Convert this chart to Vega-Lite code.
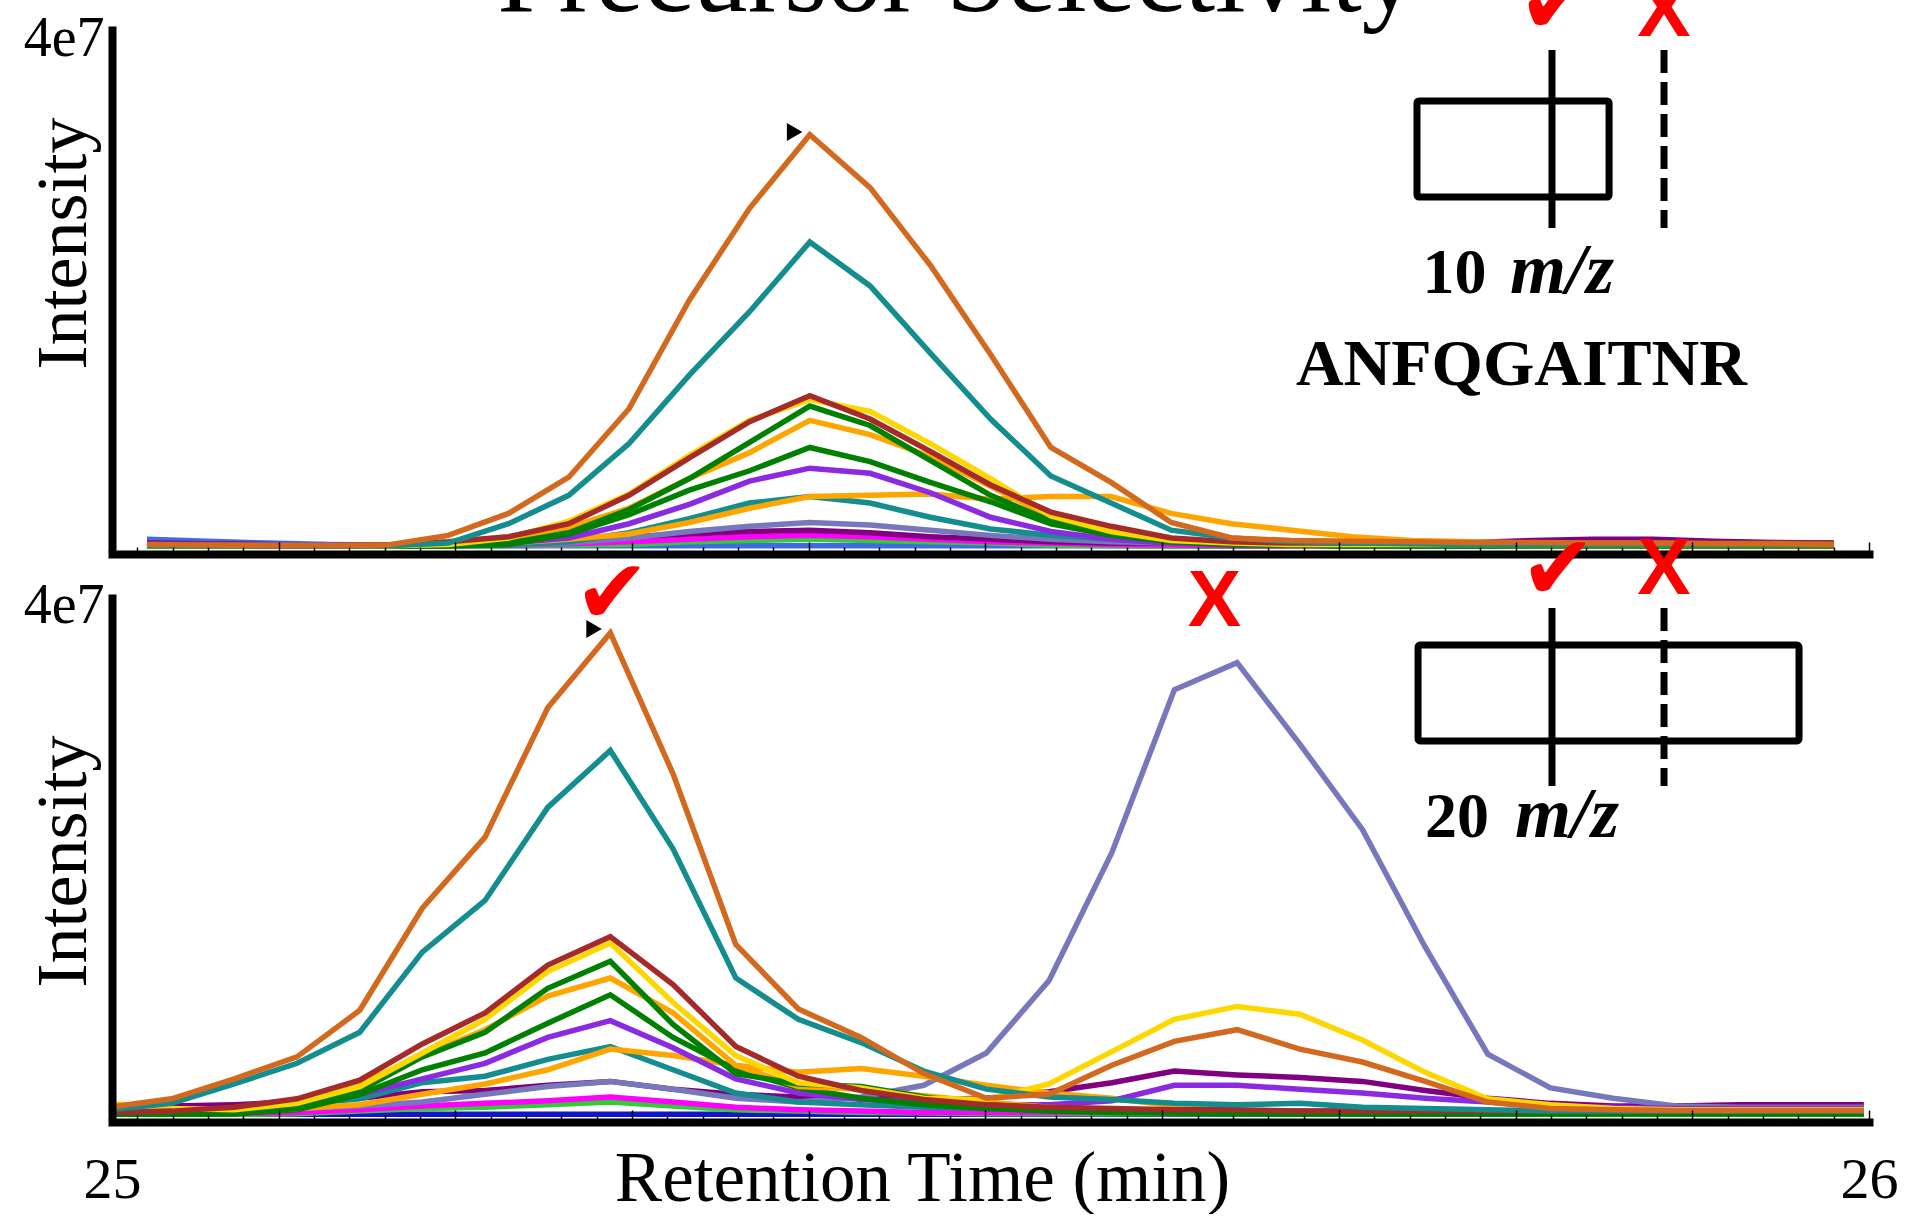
{
"$schema": "https://vega.github.io/schema/vega-lite/v6.json",
"background": "white",
"padding": {"left": 23, "top": -77, "right": 0, "bottom": 0},
"autosize": {"type": "pad"},
"bounds": "flush",
"spacing": 51,
"config": {"view": {"stroke": null}, "axis": {"grid": false}},
"datasets": {
"top": [
{"s":"bl","t":25.0255,"i":0.6},{"s":"bl","t":25.0596,"i":0.45},{"s":"bl","t":25.0937,"i":0.3},{"s":"bl","t":25.1278,"i":0.2},{"s":"bl","t":25.1619,"i":0.15},{"s":"bl","t":25.196,"i":0.1},{"s":"bl","t":25.2301,"i":0.1},{"s":"bl","t":25.2642,"i":0.1},{"s":"bl","t":25.2983,"i":0.1},{"s":"bl","t":25.3324,"i":0.1},{"s":"bl","t":25.3665,"i":0.1},{"s":"bl","t":25.4006,"i":0.1},{"s":"bl","t":25.4347,"i":0.1},{"s":"bl","t":25.4688,"i":0.1},{"s":"bl","t":25.5029,"i":0.1},{"s":"bl","t":25.537,"i":0.1},{"s":"bl","t":25.5711,"i":0.1},{"s":"bl","t":25.6051,"i":0.1},{"s":"bl","t":25.6392,"i":0.1},{"s":"bl","t":25.6733,"i":0.1},{"s":"bl","t":25.7074,"i":0.1},{"s":"bl","t":25.7415,"i":0.1},{"s":"bl","t":25.7756,"i":0.1},{"s":"bl","t":25.8097,"i":0.1},{"s":"bl","t":25.8438,"i":0.1},{"s":"bl","t":25.8779,"i":0.1},{"s":"bl","t":25.912,"i":0.1},{"s":"bl","t":25.9461,"i":0.1},{"s":"bl","t":25.9802,"i":0.1},
{"s":"li","t":25.0255,"i":0.05},{"s":"li","t":25.0596,"i":0.05},{"s":"li","t":25.0937,"i":0.05},{"s":"li","t":25.1278,"i":0.05},{"s":"li","t":25.1619,"i":0.05},{"s":"li","t":25.196,"i":0.05},{"s":"li","t":25.2301,"i":0.1},{"s":"li","t":25.2642,"i":0.15},{"s":"li","t":25.2983,"i":0.2},{"s":"li","t":25.3324,"i":0.4},{"s":"li","t":25.3665,"i":0.5},{"s":"li","t":25.4006,"i":0.6},{"s":"li","t":25.4347,"i":0.5},{"s":"li","t":25.4688,"i":0.4},{"s":"li","t":25.5029,"i":0.3},{"s":"li","t":25.537,"i":0.15},{"s":"li","t":25.5711,"i":0.1},{"s":"li","t":25.6051,"i":0.05},{"s":"li","t":25.6392,"i":0.05},{"s":"li","t":25.6733,"i":0.05},{"s":"li","t":25.7074,"i":0.05},{"s":"li","t":25.7415,"i":0.05},{"s":"li","t":25.7756,"i":0.05},{"s":"li","t":25.8097,"i":0.05},{"s":"li","t":25.8438,"i":0.05},{"s":"li","t":25.8779,"i":0.05},{"s":"li","t":25.912,"i":0.05},{"s":"li","t":25.9461,"i":0.05},{"s":"li","t":25.9802,"i":0.05},
{"s":"ma","t":25.0255,"i":0.1},{"s":"ma","t":25.0596,"i":0.1},{"s":"ma","t":25.0937,"i":0.1},{"s":"ma","t":25.1278,"i":0.1},{"s":"ma","t":25.1619,"i":0.1},{"s":"ma","t":25.196,"i":0.1},{"s":"ma","t":25.2301,"i":0.15},{"s":"ma","t":25.2642,"i":0.25},{"s":"ma","t":25.2983,"i":0.4},{"s":"ma","t":25.3324,"i":0.6},{"s":"ma","t":25.3665,"i":0.8},{"s":"ma","t":25.4006,"i":0.9},{"s":"ma","t":25.4347,"i":0.8},{"s":"ma","t":25.4688,"i":0.6},{"s":"ma","t":25.5029,"i":0.4},{"s":"ma","t":25.537,"i":0.3},{"s":"ma","t":25.5711,"i":0.2},{"s":"ma","t":25.6051,"i":0.15},{"s":"ma","t":25.6392,"i":0.1},{"s":"ma","t":25.6733,"i":0.1},{"s":"ma","t":25.7074,"i":0.1},{"s":"ma","t":25.7415,"i":0.1},{"s":"ma","t":25.7756,"i":0.1},{"s":"ma","t":25.8097,"i":0.1},{"s":"ma","t":25.8438,"i":0.1},{"s":"ma","t":25.8779,"i":0.1},{"s":"ma","t":25.912,"i":0.1},{"s":"ma","t":25.9461,"i":0.1},{"s":"ma","t":25.9802,"i":0.1},
{"s":"pu","t":25.0255,"i":0.3},{"s":"pu","t":25.0596,"i":0.25},{"s":"pu","t":25.0937,"i":0.2},{"s":"pu","t":25.1278,"i":0.15},{"s":"pu","t":25.1619,"i":0.15},{"s":"pu","t":25.196,"i":0.2},{"s":"pu","t":25.2301,"i":0.3},{"s":"pu","t":25.2642,"i":0.5},{"s":"pu","t":25.2983,"i":0.8},{"s":"pu","t":25.3324,"i":1.0},{"s":"pu","t":25.3665,"i":1.2},{"s":"pu","t":25.4006,"i":1.3},{"s":"pu","t":25.4347,"i":1.1},{"s":"pu","t":25.4688,"i":0.8},{"s":"pu","t":25.5029,"i":0.6},{"s":"pu","t":25.537,"i":0.4},{"s":"pu","t":25.5711,"i":0.3},{"s":"pu","t":25.6051,"i":0.3},{"s":"pu","t":25.6392,"i":0.3},{"s":"pu","t":25.6733,"i":0.3},{"s":"pu","t":25.7074,"i":0.3},{"s":"pu","t":25.7415,"i":0.3},{"s":"pu","t":25.7756,"i":0.35},{"s":"pu","t":25.8097,"i":0.5},{"s":"pu","t":25.8438,"i":0.6},{"s":"pu","t":25.8779,"i":0.6},{"s":"pu","t":25.912,"i":0.45},{"s":"pu","t":25.9461,"i":0.35},{"s":"pu","t":25.9802,"i":0.3},
{"s":"sl","t":25.0255,"i":0.2},{"s":"sl","t":25.0596,"i":0.2},{"s":"sl","t":25.0937,"i":0.15},{"s":"sl","t":25.1278,"i":0.15},{"s":"sl","t":25.1619,"i":0.15},{"s":"sl","t":25.196,"i":0.15},{"s":"sl","t":25.2301,"i":0.2},{"s":"sl","t":25.2642,"i":0.3},{"s":"sl","t":25.2983,"i":0.7},{"s":"sl","t":25.3324,"i":1.2},{"s":"sl","t":25.3665,"i":1.6},{"s":"sl","t":25.4006,"i":1.9},{"s":"sl","t":25.4347,"i":1.7},{"s":"sl","t":25.4688,"i":1.3},{"s":"sl","t":25.5029,"i":0.9},{"s":"sl","t":25.537,"i":0.6},{"s":"sl","t":25.5711,"i":0.4},{"s":"sl","t":25.6051,"i":0.3},{"s":"sl","t":25.6392,"i":0.25},{"s":"sl","t":25.6733,"i":0.2},{"s":"sl","t":25.7074,"i":0.2},{"s":"sl","t":25.7415,"i":0.2},{"s":"sl","t":25.7756,"i":0.2},{"s":"sl","t":25.8097,"i":0.2},{"s":"sl","t":25.8438,"i":0.2},{"s":"sl","t":25.8779,"i":0.2},{"s":"sl","t":25.912,"i":0.2},{"s":"sl","t":25.9461,"i":0.2},{"s":"sl","t":25.9802,"i":0.2},
{"s":"t2","t":25.0255,"i":0.1},{"s":"t2","t":25.0596,"i":0.1},{"s":"t2","t":25.0937,"i":0.1},{"s":"t2","t":25.1278,"i":0.1},{"s":"t2","t":25.1619,"i":0.1},{"s":"t2","t":25.196,"i":0.1},{"s":"t2","t":25.2301,"i":0.2},{"s":"t2","t":25.2642,"i":0.4},{"s":"t2","t":25.2983,"i":1.1},{"s":"t2","t":25.3324,"i":2.2},{"s":"t2","t":25.3665,"i":3.4},{"s":"t2","t":25.4006,"i":3.9},{"s":"t2","t":25.4347,"i":3.4},{"s":"t2","t":25.4688,"i":2.3},{"s":"t2","t":25.5029,"i":1.4},{"s":"t2","t":25.537,"i":0.9},{"s":"t2","t":25.5711,"i":0.6},{"s":"t2","t":25.6051,"i":0.3},{"s":"t2","t":25.6392,"i":0.2},{"s":"t2","t":25.6733,"i":0.15},{"s":"t2","t":25.7074,"i":0.1},{"s":"t2","t":25.7415,"i":0.1},{"s":"t2","t":25.7756,"i":0.1},{"s":"t2","t":25.8097,"i":0.1},{"s":"t2","t":25.8438,"i":0.1},{"s":"t2","t":25.8779,"i":0.1},{"s":"t2","t":25.912,"i":0.1},{"s":"t2","t":25.9461,"i":0.1},{"s":"t2","t":25.9802,"i":0.1},
{"s":"o2","t":25.0255,"i":0.1},{"s":"o2","t":25.0596,"i":0.1},{"s":"o2","t":25.0937,"i":0.1},{"s":"o2","t":25.1278,"i":0.1},{"s":"o2","t":25.1619,"i":0.1},{"s":"o2","t":25.196,"i":0.1},{"s":"o2","t":25.2301,"i":0.3},{"s":"o2","t":25.2642,"i":0.6},{"s":"o2","t":25.2983,"i":1.0},{"s":"o2","t":25.3324,"i":1.9},{"s":"o2","t":25.3665,"i":3.0},{"s":"o2","t":25.4006,"i":3.9},{"s":"o2","t":25.4347,"i":4.0},{"s":"o2","t":25.4688,"i":4.1},{"s":"o2","t":25.5029,"i":3.7},{"s":"o2","t":25.537,"i":3.9},{"s":"o2","t":25.5711,"i":3.9},{"s":"o2","t":25.6051,"i":2.6},{"s":"o2","t":25.6392,"i":1.8},{"s":"o2","t":25.6733,"i":1.3},{"s":"o2","t":25.7074,"i":0.8},{"s":"o2","t":25.7415,"i":0.5},{"s":"o2","t":25.7756,"i":0.4},{"s":"o2","t":25.8097,"i":0.3},{"s":"o2","t":25.8438,"i":0.3},{"s":"o2","t":25.8779,"i":0.3},{"s":"o2","t":25.912,"i":0.25},{"s":"o2","t":25.9461,"i":0.2},{"s":"o2","t":25.9802,"i":0.2},
{"s":"vi","t":25.0255,"i":0.1},{"s":"vi","t":25.0596,"i":0.1},{"s":"vi","t":25.0937,"i":0.1},{"s":"vi","t":25.1278,"i":0.1},{"s":"vi","t":25.1619,"i":0.1},{"s":"vi","t":25.196,"i":0.1},{"s":"vi","t":25.2301,"i":0.3},{"s":"vi","t":25.2642,"i":0.7},{"s":"vi","t":25.2983,"i":1.8},{"s":"vi","t":25.3324,"i":3.3},{"s":"vi","t":25.3665,"i":5.1},{"s":"vi","t":25.4006,"i":6.1},{"s":"vi","t":25.4347,"i":5.7},{"s":"vi","t":25.4688,"i":4.2},{"s":"vi","t":25.5029,"i":2.3},{"s":"vi","t":25.537,"i":1.2},{"s":"vi","t":25.5711,"i":0.6},{"s":"vi","t":25.6051,"i":0.3},{"s":"vi","t":25.6392,"i":0.2},{"s":"vi","t":25.6733,"i":0.15},{"s":"vi","t":25.7074,"i":0.1},{"s":"vi","t":25.7415,"i":0.1},{"s":"vi","t":25.7756,"i":0.1},{"s":"vi","t":25.8097,"i":0.1},{"s":"vi","t":25.8438,"i":0.1},{"s":"vi","t":25.8779,"i":0.1},{"s":"vi","t":25.912,"i":0.1},{"s":"vi","t":25.9461,"i":0.1},{"s":"vi","t":25.9802,"i":0.1},
{"s":"g2","t":25.0255,"i":0.05},{"s":"g2","t":25.0596,"i":0.05},{"s":"g2","t":25.0937,"i":0.05},{"s":"g2","t":25.1278,"i":0.05},{"s":"g2","t":25.1619,"i":0.05},{"s":"g2","t":25.196,"i":0.1},{"s":"g2","t":25.2301,"i":0.2},{"s":"g2","t":25.2642,"i":1.0},{"s":"g2","t":25.2983,"i":2.5},{"s":"g2","t":25.3324,"i":4.4},{"s":"g2","t":25.3665,"i":5.9},{"s":"g2","t":25.4006,"i":7.7},{"s":"g2","t":25.4347,"i":6.6},{"s":"g2","t":25.4688,"i":5.0},{"s":"g2","t":25.5029,"i":3.5},{"s":"g2","t":25.537,"i":1.8},{"s":"g2","t":25.5711,"i":0.9},{"s":"g2","t":25.6051,"i":0.4},{"s":"g2","t":25.6392,"i":0.2},{"s":"g2","t":25.6733,"i":0.15},{"s":"g2","t":25.7074,"i":0.1},{"s":"g2","t":25.7415,"i":0.1},{"s":"g2","t":25.7756,"i":0.1},{"s":"g2","t":25.8097,"i":0.1},{"s":"g2","t":25.8438,"i":0.1},{"s":"g2","t":25.8779,"i":0.1},{"s":"g2","t":25.912,"i":0.1},{"s":"g2","t":25.9461,"i":0.1},{"s":"g2","t":25.9802,"i":0.1},
{"s":"o1","t":25.0255,"i":0.1},{"s":"o1","t":25.0596,"i":0.1},{"s":"o1","t":25.0937,"i":0.1},{"s":"o1","t":25.1278,"i":0.1},{"s":"o1","t":25.1619,"i":0.1},{"s":"o1","t":25.196,"i":0.15},{"s":"o1","t":25.2301,"i":0.4},{"s":"o1","t":25.2642,"i":1.5},{"s":"o1","t":25.2983,"i":3.0},{"s":"o1","t":25.3324,"i":5.3},{"s":"o1","t":25.3665,"i":7.3},{"s":"o1","t":25.4006,"i":9.8},{"s":"o1","t":25.4347,"i":8.7},{"s":"o1","t":25.4688,"i":7.0},{"s":"o1","t":25.5029,"i":4.7},{"s":"o1","t":25.537,"i":2.3},{"s":"o1","t":25.5711,"i":1.1},{"s":"o1","t":25.6051,"i":0.5},{"s":"o1","t":25.6392,"i":0.3},{"s":"o1","t":25.6733,"i":0.2},{"s":"o1","t":25.7074,"i":0.2},{"s":"o1","t":25.7415,"i":0.15},{"s":"o1","t":25.7756,"i":0.15},{"s":"o1","t":25.8097,"i":0.1},{"s":"o1","t":25.8438,"i":0.1},{"s":"o1","t":25.8779,"i":0.1},{"s":"o1","t":25.912,"i":0.1},{"s":"o1","t":25.9461,"i":0.1},{"s":"o1","t":25.9802,"i":0.1},
{"s":"g1","t":25.0255,"i":0.05},{"s":"g1","t":25.0596,"i":0.05},{"s":"g1","t":25.0937,"i":0.05},{"s":"g1","t":25.1278,"i":0.05},{"s":"g1","t":25.1619,"i":0.05},{"s":"g1","t":25.196,"i":0.1},{"s":"g1","t":25.2301,"i":0.3},{"s":"g1","t":25.2642,"i":1.1},{"s":"g1","t":25.2983,"i":2.9},{"s":"g1","t":25.3324,"i":5.3},{"s":"g1","t":25.3665,"i":8.1},{"s":"g1","t":25.4006,"i":10.9},{"s":"g1","t":25.4347,"i":9.4},{"s":"g1","t":25.4688,"i":6.7},{"s":"g1","t":25.5029,"i":4.0},{"s":"g1","t":25.537,"i":2.0},{"s":"g1","t":25.5711,"i":1.0},{"s":"g1","t":25.6051,"i":0.4},{"s":"g1","t":25.6392,"i":0.2},{"s":"g1","t":25.6733,"i":0.15},{"s":"g1","t":25.7074,"i":0.1},{"s":"g1","t":25.7415,"i":0.1},{"s":"g1","t":25.7756,"i":0.1},{"s":"g1","t":25.8097,"i":0.1},{"s":"g1","t":25.8438,"i":0.1},{"s":"g1","t":25.8779,"i":0.1},{"s":"g1","t":25.912,"i":0.1},{"s":"g1","t":25.9461,"i":0.1},{"s":"g1","t":25.9802,"i":0.1},
{"s":"go","t":25.0255,"i":0.1},{"s":"go","t":25.0596,"i":0.1},{"s":"go","t":25.0937,"i":0.1},{"s":"go","t":25.1278,"i":0.1},{"s":"go","t":25.1619,"i":0.1},{"s":"go","t":25.196,"i":0.2},{"s":"go","t":25.2301,"i":0.7},{"s":"go","t":25.2642,"i":2.0},{"s":"go","t":25.2983,"i":4.1},{"s":"go","t":25.3324,"i":7.1},{"s":"go","t":25.3665,"i":9.8},{"s":"go","t":25.4006,"i":11.4},{"s":"go","t":25.4347,"i":10.5},{"s":"go","t":25.4688,"i":8.0},{"s":"go","t":25.5029,"i":5.3},{"s":"go","t":25.537,"i":2.4},{"s":"go","t":25.5711,"i":1.2},{"s":"go","t":25.6051,"i":0.5},{"s":"go","t":25.6392,"i":0.3},{"s":"go","t":25.6733,"i":0.2},{"s":"go","t":25.7074,"i":0.2},{"s":"go","t":25.7415,"i":0.2},{"s":"go","t":25.7756,"i":0.2},{"s":"go","t":25.8097,"i":0.2},{"s":"go","t":25.8438,"i":0.2},{"s":"go","t":25.8779,"i":0.2},{"s":"go","t":25.912,"i":0.2},{"s":"go","t":25.9461,"i":0.2},{"s":"go","t":25.9802,"i":0.2},
{"s":"br","t":25.0255,"i":0.15},{"s":"br","t":25.0596,"i":0.15},{"s":"br","t":25.0937,"i":0.1},{"s":"br","t":25.1278,"i":0.1},{"s":"br","t":25.1619,"i":0.15},{"s":"br","t":25.196,"i":0.4},{"s":"br","t":25.2301,"i":0.8},{"s":"br","t":25.2642,"i":1.8},{"s":"br","t":25.2983,"i":4.0},{"s":"br","t":25.3324,"i":6.9},{"s":"br","t":25.3665,"i":9.7},{"s":"br","t":25.4006,"i":11.7},{"s":"br","t":25.4347,"i":9.9},{"s":"br","t":25.4688,"i":7.4},{"s":"br","t":25.5029,"i":4.8},{"s":"br","t":25.537,"i":2.7},{"s":"br","t":25.5711,"i":1.6},{"s":"br","t":25.6051,"i":0.7},{"s":"br","t":25.6392,"i":0.4},{"s":"br","t":25.6733,"i":0.3},{"s":"br","t":25.7074,"i":0.3},{"s":"br","t":25.7415,"i":0.3},{"s":"br","t":25.7756,"i":0.3},{"s":"br","t":25.8097,"i":0.3},{"s":"br","t":25.8438,"i":0.3},{"s":"br","t":25.8779,"i":0.3},{"s":"br","t":25.912,"i":0.3},{"s":"br","t":25.9461,"i":0.3},{"s":"br","t":25.9802,"i":0.3},
{"s":"te","t":25.0255,"i":0.1},{"s":"te","t":25.0596,"i":0.1},{"s":"te","t":25.0937,"i":0.1},{"s":"te","t":25.1278,"i":0.1},{"s":"te","t":25.1619,"i":0.1},{"s":"te","t":25.196,"i":0.3},{"s":"te","t":25.2301,"i":1.8},{"s":"te","t":25.2642,"i":4.0},{"s":"te","t":25.2983,"i":8.0},{"s":"te","t":25.3324,"i":13.3},{"s":"te","t":25.3665,"i":18.2},{"s":"te","t":25.4006,"i":23.6},{"s":"te","t":25.4347,"i":20.2},{"s":"te","t":25.4688,"i":15.0},{"s":"te","t":25.5029,"i":9.9},{"s":"te","t":25.537,"i":5.5},{"s":"te","t":25.5711,"i":3.4},{"s":"te","t":25.6051,"i":1.3},{"s":"te","t":25.6392,"i":0.7},{"s":"te","t":25.6733,"i":0.4},{"s":"te","t":25.7074,"i":0.3},{"s":"te","t":25.7415,"i":0.25},{"s":"te","t":25.7756,"i":0.2},{"s":"te","t":25.8097,"i":0.2},{"s":"te","t":25.8438,"i":0.2},{"s":"te","t":25.8779,"i":0.2},{"s":"te","t":25.912,"i":0.2},{"s":"te","t":25.9461,"i":0.2},{"s":"te","t":25.9802,"i":0.2},
{"s":"ch","t":25.0255,"i":0.2},{"s":"ch","t":25.0596,"i":0.15},{"s":"ch","t":25.0937,"i":0.1},{"s":"ch","t":25.1278,"i":0.1},{"s":"ch","t":25.1619,"i":0.15},{"s":"ch","t":25.196,"i":0.9},{"s":"ch","t":25.2301,"i":2.6},{"s":"ch","t":25.2642,"i":5.4},{"s":"ch","t":25.2983,"i":10.7},{"s":"ch","t":25.3324,"i":19.1},{"s":"ch","t":25.3665,"i":26.2},{"s":"ch","t":25.4006,"i":31.9},{"s":"ch","t":25.4347,"i":27.8},{"s":"ch","t":25.4688,"i":21.8},{"s":"ch","t":25.5029,"i":14.9},{"s":"ch","t":25.537,"i":7.7},{"s":"ch","t":25.5711,"i":5.0},{"s":"ch","t":25.6051,"i":1.9},{"s":"ch","t":25.6392,"i":0.7},{"s":"ch","t":25.6733,"i":0.5},{"s":"ch","t":25.7074,"i":0.45},{"s":"ch","t":25.7415,"i":0.4},{"s":"ch","t":25.7756,"i":0.35},{"s":"ch","t":25.8097,"i":0.35},{"s":"ch","t":25.8438,"i":0.3},{"s":"ch","t":25.8779,"i":0.3},{"s":"ch","t":25.912,"i":0.25},{"s":"ch","t":25.9461,"i":0.25},{"s":"ch","t":25.9802,"i":0.2}
],
"bottom": [
{"s":"db","t":25.004,"i":0.05},{"s":"db","t":25.0395,"i":0.05},{"s":"db","t":25.0749,"i":0.05},{"s":"db","t":25.1104,"i":0.05},{"s":"db","t":25.1459,"i":0.05},{"s":"db","t":25.1813,"i":0.05},{"s":"db","t":25.2168,"i":0.05},{"s":"db","t":25.2523,"i":0.05},{"s":"db","t":25.2877,"i":0.05},{"s":"db","t":25.3232,"i":0.05},{"s":"db","t":25.3587,"i":0.05},{"s":"db","t":25.3941,"i":0.05},{"s":"db","t":25.4296,"i":0.05},{"s":"db","t":25.4651,"i":0.05},{"s":"db","t":25.5005,"i":0.05},{"s":"db","t":25.536,"i":0.05},{"s":"db","t":25.5715,"i":0.05},{"s":"db","t":25.6069,"i":0.05},{"s":"db","t":25.6424,"i":0.05},{"s":"db","t":25.6779,"i":0.05},{"s":"db","t":25.7133,"i":0.05},{"s":"db","t":25.7488,"i":0.05},{"s":"db","t":25.7843,"i":0.05},{"s":"db","t":25.8197,"i":0.05},{"s":"db","t":25.8552,"i":0.05},{"s":"db","t":25.8907,"i":0.05},{"s":"db","t":25.9261,"i":0.05},{"s":"db","t":25.9616,"i":0.05},{"s":"db","t":25.9971,"i":0.05},
{"s":"li","t":25.004,"i":0.05},{"s":"li","t":25.0395,"i":0.05},{"s":"li","t":25.0749,"i":0.05},{"s":"li","t":25.1104,"i":0.1},{"s":"li","t":25.1459,"i":0.3},{"s":"li","t":25.1813,"i":0.5},{"s":"li","t":25.2168,"i":0.6},{"s":"li","t":25.2523,"i":0.8},{"s":"li","t":25.2877,"i":1.0},{"s":"li","t":25.3232,"i":0.7},{"s":"li","t":25.3587,"i":0.4},{"s":"li","t":25.3941,"i":0.3},{"s":"li","t":25.4296,"i":0.2},{"s":"li","t":25.4651,"i":0.15},{"s":"li","t":25.5005,"i":0.1},{"s":"li","t":25.536,"i":0.1},{"s":"li","t":25.5715,"i":0.1},{"s":"li","t":25.6069,"i":0.1},{"s":"li","t":25.6424,"i":0.1},{"s":"li","t":25.6779,"i":0.1},{"s":"li","t":25.7133,"i":0.1},{"s":"li","t":25.7488,"i":0.1},{"s":"li","t":25.7843,"i":0.1},{"s":"li","t":25.8197,"i":0.05},{"s":"li","t":25.8552,"i":0.05},{"s":"li","t":25.8907,"i":0.05},{"s":"li","t":25.9261,"i":0.05},{"s":"li","t":25.9616,"i":0.05},{"s":"li","t":25.9971,"i":0.05},
{"s":"ma","t":25.004,"i":0.1},{"s":"ma","t":25.0395,"i":0.1},{"s":"ma","t":25.0749,"i":0.1},{"s":"ma","t":25.1104,"i":0.2},{"s":"ma","t":25.1459,"i":0.4},{"s":"ma","t":25.1813,"i":0.7},{"s":"ma","t":25.2168,"i":0.9},{"s":"ma","t":25.2523,"i":1.1},{"s":"ma","t":25.2877,"i":1.4},{"s":"ma","t":25.3232,"i":1.0},{"s":"ma","t":25.3587,"i":0.6},{"s":"ma","t":25.3941,"i":0.4},{"s":"ma","t":25.4296,"i":0.3},{"s":"ma","t":25.4651,"i":0.2},{"s":"ma","t":25.5005,"i":0.2},{"s":"ma","t":25.536,"i":0.2},{"s":"ma","t":25.5715,"i":0.2},{"s":"ma","t":25.6069,"i":0.2},{"s":"ma","t":25.6424,"i":0.2},{"s":"ma","t":25.6779,"i":0.2},{"s":"ma","t":25.7133,"i":0.2},{"s":"ma","t":25.7488,"i":0.2},{"s":"ma","t":25.7843,"i":0.2},{"s":"ma","t":25.8197,"i":0.15},{"s":"ma","t":25.8552,"i":0.15},{"s":"ma","t":25.8907,"i":0.15},{"s":"ma","t":25.9261,"i":0.15},{"s":"ma","t":25.9616,"i":0.15},{"s":"ma","t":25.9971,"i":0.15},
{"s":"pu","t":25.004,"i":0.5},{"s":"pu","t":25.0395,"i":0.7},{"s":"pu","t":25.0749,"i":0.8},{"s":"pu","t":25.1104,"i":1.0},{"s":"pu","t":25.1459,"i":1.3},{"s":"pu","t":25.1813,"i":1.8},{"s":"pu","t":25.2168,"i":1.9},{"s":"pu","t":25.2523,"i":2.3},{"s":"pu","t":25.2877,"i":2.6},{"s":"pu","t":25.3232,"i":2.0},{"s":"pu","t":25.3587,"i":1.6},{"s":"pu","t":25.3941,"i":1.4},{"s":"pu","t":25.4296,"i":1.3},{"s":"pu","t":25.4651,"i":1.2},{"s":"pu","t":25.5005,"i":1.3},{"s":"pu","t":25.536,"i":1.8},{"s":"pu","t":25.5715,"i":2.5},{"s":"pu","t":25.6069,"i":3.4},{"s":"pu","t":25.6424,"i":3.1},{"s":"pu","t":25.6779,"i":2.9},{"s":"pu","t":25.7133,"i":2.6},{"s":"pu","t":25.7488,"i":1.9},{"s":"pu","t":25.7843,"i":1.3},{"s":"pu","t":25.8197,"i":0.9},{"s":"pu","t":25.8552,"i":0.7},{"s":"pu","t":25.8907,"i":0.7},{"s":"pu","t":25.9261,"i":0.8},{"s":"pu","t":25.9616,"i":0.8},{"s":"pu","t":25.9971,"i":0.8},
{"s":"sl","t":25.004,"i":0.2},{"s":"sl","t":25.0395,"i":0.3},{"s":"sl","t":25.0749,"i":0.4},{"s":"sl","t":25.1104,"i":0.5},{"s":"sl","t":25.1459,"i":0.7},{"s":"sl","t":25.1813,"i":1.0},{"s":"sl","t":25.2168,"i":1.6},{"s":"sl","t":25.2523,"i":2.2},{"s":"sl","t":25.2877,"i":2.6},{"s":"sl","t":25.3232,"i":2.0},{"s":"sl","t":25.3587,"i":1.3},{"s":"sl","t":25.3941,"i":1.0},{"s":"sl","t":25.4296,"i":1.4},{"s":"sl","t":25.4651,"i":2.3},{"s":"sl","t":25.5005,"i":4.8},{"s":"sl","t":25.536,"i":10.4},{"s":"sl","t":25.5715,"i":20.3},{"s":"sl","t":25.6069,"i":32.9},{"s":"sl","t":25.6424,"i":35.0},{"s":"sl","t":25.6779,"i":28.7},{"s":"sl","t":25.7133,"i":22.1},{"s":"sl","t":25.7488,"i":13.0},{"s":"sl","t":25.7843,"i":4.7},{"s":"sl","t":25.8197,"i":2.1},{"s":"sl","t":25.8552,"i":1.3},{"s":"sl","t":25.8907,"i":0.7},{"s":"sl","t":25.9261,"i":0.6},{"s":"sl","t":25.9616,"i":0.6},{"s":"sl","t":25.9971,"i":0.6},
{"s":"t2","t":25.004,"i":0.2},{"s":"t2","t":25.0395,"i":0.3},{"s":"t2","t":25.0749,"i":0.5},{"s":"t2","t":25.1104,"i":0.8},{"s":"t2","t":25.1459,"i":1.25},{"s":"t2","t":25.1813,"i":2.5},{"s":"t2","t":25.2168,"i":3.0},{"s":"t2","t":25.2523,"i":4.3},{"s":"t2","t":25.2877,"i":5.3},{"s":"t2","t":25.3232,"i":3.5},{"s":"t2","t":25.3587,"i":1.7},{"s":"t2","t":25.3941,"i":1.0},{"s":"t2","t":25.4296,"i":0.8},{"s":"t2","t":25.4651,"i":0.6},{"s":"t2","t":25.5005,"i":0.5},{"s":"t2","t":25.536,"i":0.4},{"s":"t2","t":25.5715,"i":0.4},{"s":"t2","t":25.6069,"i":0.35},{"s":"t2","t":25.6424,"i":0.3},{"s":"t2","t":25.6779,"i":0.3},{"s":"t2","t":25.7133,"i":0.3},{"s":"t2","t":25.7488,"i":0.3},{"s":"t2","t":25.7843,"i":0.3},{"s":"t2","t":25.8197,"i":0.3},{"s":"t2","t":25.8552,"i":0.3},{"s":"t2","t":25.8907,"i":0.3},{"s":"t2","t":25.9261,"i":0.3},{"s":"t2","t":25.9616,"i":0.3},{"s":"t2","t":25.9971,"i":0.3},
{"s":"o2","t":25.004,"i":0.2},{"s":"o2","t":25.0395,"i":0.3},{"s":"o2","t":25.0749,"i":0.4},{"s":"o2","t":25.1104,"i":0.5},{"s":"o2","t":25.1459,"i":0.8},{"s":"o2","t":25.1813,"i":1.6},{"s":"o2","t":25.2168,"i":2.4},{"s":"o2","t":25.2523,"i":3.5},{"s":"o2","t":25.2877,"i":5.1},{"s":"o2","t":25.3232,"i":4.6},{"s":"o2","t":25.3587,"i":3.85},{"s":"o2","t":25.3941,"i":3.3},{"s":"o2","t":25.4296,"i":3.6},{"s":"o2","t":25.4651,"i":3.0},{"s":"o2","t":25.5005,"i":2.3},{"s":"o2","t":25.536,"i":1.7},{"s":"o2","t":25.5715,"i":1.3},{"s":"o2","t":25.6069,"i":0.7},{"s":"o2","t":25.6424,"i":0.3},{"s":"o2","t":25.6779,"i":0.2},{"s":"o2","t":25.7133,"i":0.2},{"s":"o2","t":25.7488,"i":0.2},{"s":"o2","t":25.7843,"i":0.2},{"s":"o2","t":25.8197,"i":0.2},{"s":"o2","t":25.8552,"i":0.2},{"s":"o2","t":25.8907,"i":0.2},{"s":"o2","t":25.9261,"i":0.2},{"s":"o2","t":25.9616,"i":0.2},{"s":"o2","t":25.9971,"i":0.2},
{"s":"vi","t":25.004,"i":0.1},{"s":"vi","t":25.0395,"i":0.2},{"s":"vi","t":25.0749,"i":0.3},{"s":"vi","t":25.1104,"i":0.8},{"s":"vi","t":25.1459,"i":1.6},{"s":"vi","t":25.1813,"i":2.8},{"s":"vi","t":25.2168,"i":4.0},{"s":"vi","t":25.2523,"i":6.0},{"s":"vi","t":25.2877,"i":7.3},{"s":"vi","t":25.3232,"i":5.2},{"s":"vi","t":25.3587,"i":2.8},{"s":"vi","t":25.3941,"i":1.7},{"s":"vi","t":25.4296,"i":1.2},{"s":"vi","t":25.4651,"i":1.0},{"s":"vi","t":25.5005,"i":0.8},{"s":"vi","t":25.536,"i":0.8},{"s":"vi","t":25.5715,"i":1.1},{"s":"vi","t":25.6069,"i":2.3},{"s":"vi","t":25.6424,"i":2.3},{"s":"vi","t":25.6779,"i":2.0},{"s":"vi","t":25.7133,"i":1.7},{"s":"vi","t":25.7488,"i":1.3},{"s":"vi","t":25.7843,"i":1.0},{"s":"vi","t":25.8197,"i":0.7},{"s":"vi","t":25.8552,"i":0.6},{"s":"vi","t":25.8907,"i":0.5},{"s":"vi","t":25.9261,"i":0.5},{"s":"vi","t":25.9616,"i":0.5},{"s":"vi","t":25.9971,"i":0.5},
{"s":"g2","t":25.004,"i":0.05},{"s":"g2","t":25.0395,"i":0.05},{"s":"g2","t":25.0749,"i":0.1},{"s":"g2","t":25.1104,"i":0.4},{"s":"g2","t":25.1459,"i":1.6},{"s":"g2","t":25.1813,"i":3.5},{"s":"g2","t":25.2168,"i":4.8},{"s":"g2","t":25.2523,"i":7.1},{"s":"g2","t":25.2877,"i":9.3},{"s":"g2","t":25.3232,"i":6.0},{"s":"g2","t":25.3587,"i":3.5},{"s":"g2","t":25.3941,"i":2.1},{"s":"g2","t":25.4296,"i":1.3},{"s":"g2","t":25.4651,"i":0.8},{"s":"g2","t":25.5005,"i":0.5},{"s":"g2","t":25.536,"i":0.3},{"s":"g2","t":25.5715,"i":0.2},{"s":"g2","t":25.6069,"i":0.15},{"s":"g2","t":25.6424,"i":0.1},{"s":"g2","t":25.6779,"i":0.1},{"s":"g2","t":25.7133,"i":0.1},{"s":"g2","t":25.7488,"i":0.1},{"s":"g2","t":25.7843,"i":0.1},{"s":"g2","t":25.8197,"i":0.1},{"s":"g2","t":25.8552,"i":0.1},{"s":"g2","t":25.8907,"i":0.1},{"s":"g2","t":25.9261,"i":0.1},{"s":"g2","t":25.9616,"i":0.1},{"s":"g2","t":25.9971,"i":0.1},
{"s":"o1","t":25.004,"i":0.1},{"s":"o1","t":25.0395,"i":0.1},{"s":"o1","t":25.0749,"i":0.2},{"s":"o1","t":25.1104,"i":0.5},{"s":"o1","t":25.1459,"i":2.4},{"s":"o1","t":25.1813,"i":4.6},{"s":"o1","t":25.2168,"i":6.6},{"s":"o1","t":25.2523,"i":9.2},{"s":"o1","t":25.2877,"i":10.6},{"s":"o1","t":25.3232,"i":7.9},{"s":"o1","t":25.3587,"i":3.85},{"s":"o1","t":25.3941,"i":2.2},{"s":"o1","t":25.4296,"i":2.0},{"s":"o1","t":25.4651,"i":1.5},{"s":"o1","t":25.5005,"i":1.0},{"s":"o1","t":25.536,"i":0.6},{"s":"o1","t":25.5715,"i":0.4},{"s":"o1","t":25.6069,"i":0.3},{"s":"o1","t":25.6424,"i":0.2},{"s":"o1","t":25.6779,"i":0.2},{"s":"o1","t":25.7133,"i":0.2},{"s":"o1","t":25.7488,"i":0.2},{"s":"o1","t":25.7843,"i":0.2},{"s":"o1","t":25.8197,"i":0.2},{"s":"o1","t":25.8552,"i":0.2},{"s":"o1","t":25.8907,"i":0.2},{"s":"o1","t":25.9261,"i":0.2},{"s":"o1","t":25.9616,"i":0.2},{"s":"o1","t":25.9971,"i":0.2},
{"s":"g1","t":25.004,"i":0.05},{"s":"g1","t":25.0395,"i":0.05},{"s":"g1","t":25.0749,"i":0.1},{"s":"g1","t":25.1104,"i":0.5},{"s":"g1","t":25.1459,"i":1.9},{"s":"g1","t":25.1813,"i":4.5},{"s":"g1","t":25.2168,"i":6.4},{"s":"g1","t":25.2523,"i":9.8},{"s":"g1","t":25.2877,"i":11.9},{"s":"g1","t":25.3232,"i":7.0},{"s":"g1","t":25.3587,"i":3.2},{"s":"g1","t":25.3941,"i":2.4},{"s":"g1","t":25.4296,"i":2.2},{"s":"g1","t":25.4651,"i":1.4},{"s":"g1","t":25.5005,"i":0.8},{"s":"g1","t":25.536,"i":0.5},{"s":"g1","t":25.5715,"i":0.3},{"s":"g1","t":25.6069,"i":0.2},{"s":"g1","t":25.6424,"i":0.15},{"s":"g1","t":25.6779,"i":0.1},{"s":"g1","t":25.7133,"i":0.1},{"s":"g1","t":25.7488,"i":0.1},{"s":"g1","t":25.7843,"i":0.1},{"s":"g1","t":25.8197,"i":0.1},{"s":"g1","t":25.8552,"i":0.1},{"s":"g1","t":25.8907,"i":0.1},{"s":"g1","t":25.9261,"i":0.1},{"s":"g1","t":25.9616,"i":0.1},{"s":"g1","t":25.9971,"i":0.1},
{"s":"go","t":25.004,"i":0.9},{"s":"go","t":25.0395,"i":0.5},{"s":"go","t":25.0749,"i":0.4},{"s":"go","t":25.1104,"i":0.9},{"s":"go","t":25.1459,"i":2.2},{"s":"go","t":25.1813,"i":4.8},{"s":"go","t":25.2168,"i":7.4},{"s":"go","t":25.2523,"i":11.1},{"s":"go","t":25.2877,"i":13.3},{"s":"go","t":25.3232,"i":8.7},{"s":"go","t":25.3587,"i":4.6},{"s":"go","t":25.3941,"i":2.5},{"s":"go","t":25.4296,"i":2.1},{"s":"go","t":25.4651,"i":1.3},{"s":"go","t":25.5005,"i":1.2},{"s":"go","t":25.536,"i":2.4},{"s":"go","t":25.5715,"i":4.9},{"s":"go","t":25.6069,"i":7.4},{"s":"go","t":25.6424,"i":8.4},{"s":"go","t":25.6779,"i":7.8},{"s":"go","t":25.7133,"i":5.8},{"s":"go","t":25.7488,"i":3.3},{"s":"go","t":25.7843,"i":1.25},{"s":"go","t":25.8197,"i":0.8},{"s":"go","t":25.8552,"i":0.5},{"s":"go","t":25.8907,"i":0.4},{"s":"go","t":25.9261,"i":0.4},{"s":"go","t":25.9616,"i":0.4},{"s":"go","t":25.9971,"i":0.4},
{"s":"br","t":25.004,"i":0.2},{"s":"br","t":25.0395,"i":0.3},{"s":"br","t":25.0749,"i":0.6},{"s":"br","t":25.1104,"i":1.25},{"s":"br","t":25.1459,"i":2.7},{"s":"br","t":25.1813,"i":5.5},{"s":"br","t":25.2168,"i":7.9},{"s":"br","t":25.2523,"i":11.6},{"s":"br","t":25.2877,"i":13.8},{"s":"br","t":25.3232,"i":10.1},{"s":"br","t":25.3587,"i":5.3},{"s":"br","t":25.3941,"i":3.0},{"s":"br","t":25.4296,"i":1.9},{"s":"br","t":25.4651,"i":1.2},{"s":"br","t":25.5005,"i":0.8},{"s":"br","t":25.536,"i":0.6},{"s":"br","t":25.5715,"i":0.5},{"s":"br","t":25.6069,"i":0.4},{"s":"br","t":25.6424,"i":0.4},{"s":"br","t":25.6779,"i":0.3},{"s":"br","t":25.7133,"i":0.3},{"s":"br","t":25.7488,"i":0.3},{"s":"br","t":25.7843,"i":0.3},{"s":"br","t":25.8197,"i":0.3},{"s":"br","t":25.8552,"i":0.3},{"s":"br","t":25.8907,"i":0.3},{"s":"br","t":25.9261,"i":0.3},{"s":"br","t":25.9616,"i":0.3},{"s":"br","t":25.9971,"i":0.3},
{"s":"te","t":25.004,"i":0.4},{"s":"te","t":25.0395,"i":0.9},{"s":"te","t":25.0749,"i":2.4},{"s":"te","t":25.1104,"i":4.0},{"s":"te","t":25.1459,"i":6.4},{"s":"te","t":25.1813,"i":12.6},{"s":"te","t":25.2168,"i":16.6},{"s":"te","t":25.2523,"i":23.8},{"s":"te","t":25.2877,"i":28.2},{"s":"te","t":25.3232,"i":20.6},{"s":"te","t":25.3587,"i":10.6},{"s":"te","t":25.3941,"i":7.4},{"s":"te","t":25.4296,"i":5.6},{"s":"te","t":25.4651,"i":3.4},{"s":"te","t":25.5005,"i":2.0},{"s":"te","t":25.536,"i":1.4},{"s":"te","t":25.5715,"i":1.2},{"s":"te","t":25.6069,"i":0.9},{"s":"te","t":25.6424,"i":0.8},{"s":"te","t":25.6779,"i":0.9},{"s":"te","t":25.7133,"i":0.6},{"s":"te","t":25.7488,"i":0.5},{"s":"te","t":25.7843,"i":0.4},{"s":"te","t":25.8197,"i":0.3},{"s":"te","t":25.8552,"i":0.3},{"s":"te","t":25.8907,"i":0.3},{"s":"te","t":25.9261,"i":0.3},{"s":"te","t":25.9616,"i":0.3},{"s":"te","t":25.9971,"i":0.3},
{"s":"ch","t":25.004,"i":0.6},{"s":"ch","t":25.0395,"i":1.25},{"s":"ch","t":25.0749,"i":2.8},{"s":"ch","t":25.1104,"i":4.5},{"s":"ch","t":25.1459,"i":8.1},{"s":"ch","t":25.1813,"i":16.0},{"s":"ch","t":25.2168,"i":21.5},{"s":"ch","t":25.2523,"i":31.5},{"s":"ch","t":25.2877,"i":37.3},{"s":"ch","t":25.3232,"i":26.4},{"s":"ch","t":25.3587,"i":13.2},{"s":"ch","t":25.3941,"i":8.2},{"s":"ch","t":25.4296,"i":6.0},{"s":"ch","t":25.4651,"i":3.2},{"s":"ch","t":25.5005,"i":1.3},{"s":"ch","t":25.536,"i":1.6},{"s":"ch","t":25.5715,"i":3.85},{"s":"ch","t":25.6069,"i":5.7},{"s":"ch","t":25.6424,"i":6.6},{"s":"ch","t":25.6779,"i":5.1},{"s":"ch","t":25.7133,"i":4.1},{"s":"ch","t":25.7488,"i":2.6},{"s":"ch","t":25.7843,"i":1.0},{"s":"ch","t":25.8197,"i":0.5},{"s":"ch","t":25.8552,"i":0.4},{"s":"ch","t":25.8907,"i":0.35},{"s":"ch","t":25.9261,"i":0.35},{"s":"ch","t":25.9616,"i":0.35},{"s":"ch","t":25.9971,"i":0.35}
]
},
"vconcat": [
{
"width": 1757, "height": 517,
"encoding": {
"x": {"field": "t", "type": "quantitative", "scale": {"domain": [25.0057, 26.0], "nice": false, "zero": false},
 "axis": {"values": [25.0057,25.02,25.04,25.06,25.08,25.1,25.12,25.14,25.16,25.18,25.2,25.22,25.24,25.26,25.28,25.3,25.32,25.34,25.36,25.38,25.4,25.42,25.44,25.46,25.48,25.5,25.52,25.54,25.56,25.58,25.6,25.62,25.64,25.66,25.68,25.7,25.72,25.74,25.76,25.78,25.8,25.82,25.84,25.86,25.88,25.9,25.92,25.94,25.96,25.98,26.0],
  "labels": false, "title": null, "domainColor": "black", "domainWidth": 8, "domainCap": "square", "offset": 7,
  "tickColor": "black", "tickWidth": 1.5, "tickSize": {"condition": {"test": "datum.value < 25.01 || abs(datum.value*10 - round(datum.value*10)) < 0.01", "value": -12}, "value": -7}, "grid": false, "zindex": 1}},
"y": {"field": "i", "type": "quantitative", "scale": {"domain": [0, 40], "nice": false},
 "axis": {"values": [40], "labelExpr": "'4e7'", "labelFont": "Liberation Serif", "labelFontSize": 56, "labelColor": "black", "labelBaseline": "alphabetic", "labelOffset": 25, "labelPadding": 8, "labelFlush": false, "labelBound": false, "labelOverlap": false, "ticks": false, "domainColor": "black", "domainWidth": 8, "domainCap": "square",
  "title": "Intensity", "titleFont": "Liberation Serif", "titleFontSize": 72, "titleFontWeight": "normal", "titleColor": "black", "titleAngle": 270, "titleX": -27, "titleY": 213, "titleAlign": "center", "titleBaseline": "alphabetic", "grid": false, "zindex": 1}}
},
"layer": [
{"data": {"name": "top"}, "mark": {"type": "line", "strokeWidth": 5.5},
 "encoding": {"color": {"field": "s", "type": "nominal", "legend": null,
  "scale": {"domain": ["bl","db","li","ma","pu","sl","t2","o2","vi","g2","o1","g1","go","br","te","ch"],
   "range": ["#4169E1","#1414C8","#32CD32","#FF00FF","#800080","#7777BB","#138D8D","#FFA500","#8A2BE2","#008000","#FFA500","#008000","#FFD700","#A52A2A","#138D8D","#D2691E"]}}}},
{"data": {"values": [{"t": 25.7442, "t2": 25.8529, "i": 34.51, "i2": 27.08}]}, "mark": {"type": "rect", "filled": false, "stroke": "black", "strokeWidth": 7, "cornerRadius": 2}, "encoding": {"x2": {"field": "t2"}, "y2": {"field": "i2"}}},
{"data": {"values": [{"t": 25.8206, "i": 38.45, "i2": 24.68}]}, "mark": {"type": "rule", "stroke": "black", "strokeWidth": 7}, "encoding": {"y2": {"field": "i2"}}},
{"data": {"values": [{"t": 25.884, "i": 38.45, "i2": 24.68}]}, "mark": {"type": "rule", "stroke": "black", "strokeWidth": 7, "strokeDash": [23, 9]}, "encoding": {"y2": {"field": "i2"}}},
{"data": {"values": [{"t": 25.8229, "i": 39.77, "label": "✔"}]}, "mark": {"type": "text", "font": "DejaVu Sans", "fontSize": 90, "color": "red", "align": "center", "baseline": "alphabetic"}, "encoding": {"text": {"field": "label"}}},
{"data": {"values": [{"t": 25.884, "i": 39.54, "label": "X"}]}, "mark": {"type": "text", "font": "Liberation Sans", "fontWeight": "bold", "fontSize": 80, "color": "red", "align": "center", "baseline": "alphabetic"}, "encoding": {"text": {"field": "label"}}},
{"data": {"values": [{"t": 25.7655, "i": 19.65, "label": "10"}]}, "mark": {"type": "text", "font": "Liberation Serif", "fontWeight": "bold", "fontSize": 64, "color": "black", "align": "center", "baseline": "alphabetic"}, "encoding": {"text": {"field": "label"}}},
{"data": {"values": [{"t": 25.8263, "i": 19.65, "label": "m/z"}]}, "mark": {"type": "text", "font": "Liberation Serif", "fontWeight": "bold", "fontStyle": "italic", "fontSize": 72, "color": "black", "align": "center", "baseline": "alphabetic"}, "encoding": {"text": {"field": "label"}}},
{"data": {"values": [{"t": 25.8033, "i": 12.53, "label": "ANFQGAITNR"}]}, "mark": {"type": "text", "font": "Liberation Serif", "fontWeight": "bold", "fontSize": 66, "color": "black", "align": "center", "baseline": "alphabetic"}, "encoding": {"text": {"field": "label"}}},
{"data": {"values": [{"t": 25.4839, "i": 41.47, "label": "Precursor Selectivity"}]}, "mark": {"type": "text", "font": "Liberation Serif", "fontSize": 110, "color": "black", "align": "center", "baseline": "alphabetic"}, "encoding": {"text": {"field": "label"}}},
{"data": {"values": [{"t": 25.392, "i": 32.11}]}, "mark": {"type": "point", "shape": "triangle-right", "filled": true, "color": "black", "size": 320, "opacity": 1}}
]
},
{
"width": 1757, "height": 517,
"encoding": {
"x": {"field": "t", "type": "quantitative", "scale": {"domain": [25.0057, 26.0], "nice": false, "zero": false},
 "axis": {"values": [25.0057,25.02,25.04,25.06,25.08,25.1,25.12,25.14,25.16,25.18,25.2,25.22,25.24,25.26,25.28,25.3,25.32,25.34,25.36,25.38,25.4,25.42,25.44,25.46,25.48,25.5,25.52,25.54,25.56,25.58,25.6,25.62,25.64,25.66,25.68,25.7,25.72,25.74,25.76,25.78,25.8,25.82,25.84,25.86,25.88,25.9,25.92,25.94,25.96,25.98,26.0],
  "labelExpr": "datum.value < 25.01 ? '25' : (datum.value > 25.999 ? '26' : '')", "labelFont": "Liberation Serif", "labelFontSize": 58, "labelColor": "black", "labelBaseline": "alphabetic", "labelPadding": 87, "labelOverlap": false, "labelFlush": false, "labelBound": false,
  "title": "Retention Time (min)", "titleFont": "Liberation Serif", "titleFontSize": 71, "titleFontWeight": "normal", "titleColor": "black", "titleX": 810, "titleY": 78, "titleAlign": "center", "titleBaseline": "alphabetic",
  "domainColor": "black", "domainWidth": 8, "domainCap": "square", "offset": 7,
  "tickColor": "black", "tickWidth": 1.5, "tickSize": {"condition": {"test": "datum.value < 25.01 || abs(datum.value*10 - round(datum.value*10)) < 0.01", "value": -12}, "value": -7}, "grid": false, "zindex": 1}},
"y": {"field": "i", "type": "quantitative", "scale": {"domain": [0, 40], "nice": false},
 "axis": {"values": [40], "labelExpr": "'4e7'", "labelFont": "Liberation Serif", "labelFontSize": 56, "labelColor": "black", "labelBaseline": "alphabetic", "labelOffset": 24, "labelPadding": 8, "labelFlush": false, "labelBound": false, "labelOverlap": false, "ticks": false, "domainColor": "black", "domainWidth": 8, "domainCap": "square",
  "title": "Intensity", "titleFont": "Liberation Serif", "titleFontSize": 72, "titleFontWeight": "normal", "titleColor": "black", "titleAngle": 270, "titleX": -27, "titleY": 263, "titleAlign": "center", "titleBaseline": "alphabetic", "grid": false, "zindex": 1}}
},
"layer": [
{"data": {"name": "bottom"}, "mark": {"type": "line", "strokeWidth": 5.5},
 "encoding": {"color": {"field": "s", "type": "nominal", "legend": null,
  "scale": {"domain": ["bl","db","li","ma","pu","sl","t2","o2","vi","g2","o1","g1","go","br","te","ch"],
   "range": ["#4169E1","#1414C8","#32CD32","#FF00FF","#800080","#7777BB","#138D8D","#FFA500","#8A2BE2","#008000","#FFA500","#008000","#FFD700","#A52A2A","#138D8D","#D2691E"]}}}},
{"data": {"values": [{"t": 25.7448, "t2": 25.9604, "i": 36.36, "i2": 28.94}]}, "mark": {"type": "rect", "filled": false, "stroke": "black", "strokeWidth": 7, "cornerRadius": 2}, "encoding": {"x2": {"field": "t2"}, "y2": {"field": "i2"}}},
{"data": {"values": [{"t": 25.8206, "i": 39.23, "i2": 25.45}]}, "mark": {"type": "rule", "stroke": "black", "strokeWidth": 7}, "encoding": {"y2": {"field": "i2"}}},
{"data": {"values": [{"t": 25.884, "i": 39.23, "i2": 25.45}]}, "mark": {"type": "rule", "stroke": "black", "strokeWidth": 7, "strokeDash": [23, 9]}, "encoding": {"y2": {"field": "i2"}}},
{"data": {"values": [{"t": 25.824, "i": 39.92, "label": "✔"}, {"t": 25.2887, "i": 38.07, "label": "✔"}]}, "mark": {"type": "text", "font": "DejaVu Sans", "fontSize": 90, "color": "red", "align": "center", "baseline": "alphabetic"}, "encoding": {"text": {"field": "label"}}},
{"data": {"values": [{"t": 25.884, "i": 40.31, "label": "X"}, {"t": 25.6296, "i": 37.83, "label": "X"}]}, "mark": {"type": "text", "font": "Liberation Sans", "fontWeight": "bold", "fontSize": 80, "color": "red", "align": "center", "baseline": "alphabetic"}, "encoding": {"text": {"field": "label"}}},
{"data": {"values": [{"t": 25.7669, "i": 21.51, "label": "20"}]}, "mark": {"type": "text", "font": "Liberation Serif", "fontWeight": "bold", "fontSize": 64, "color": "black", "align": "center", "baseline": "alphabetic"}, "encoding": {"text": {"field": "label"}}},
{"data": {"values": [{"t": 25.8291, "i": 21.51, "label": "m/z"}]}, "mark": {"type": "text", "font": "Liberation Serif", "fontWeight": "bold", "fontStyle": "italic", "fontSize": 72, "color": "black", "align": "center", "baseline": "alphabetic"}, "encoding": {"text": {"field": "label"}}},
{"data": {"values": [{"t": 25.2785, "i": 37.6}]}, "mark": {"type": "point", "shape": "triangle-right", "filled": true, "color": "black", "size": 320, "opacity": 1}}
]
}
]
}
